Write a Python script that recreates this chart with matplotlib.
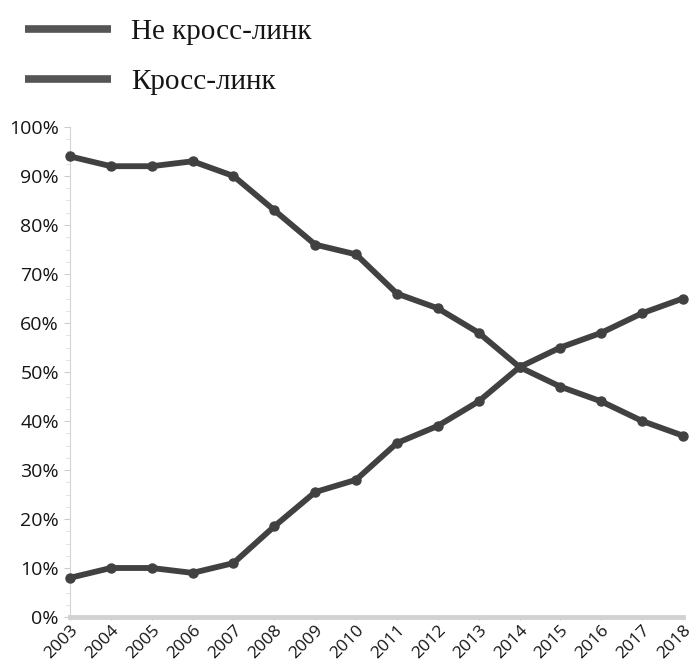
import matplotlib
matplotlib.use("Agg")
import matplotlib.pyplot as plt
from matplotlib.lines import Line2D
from matplotlib.ticker import MultipleLocator, FuncFormatter

years = list(range(2003, 2019))
non_crosslink = [94, 92, 92, 93, 90, 83, 76, 74, 66, 63, 58, 51, 47, 44, 40, 37]
crosslink = [8, 10, 10, 9, 11, 18.5, 25.5, 28, 35.5, 39, 44, 51, 55, 58, 62, 65]
series_labels = ["Не кросс-линк", "Кросс-линк"]

line_color = "#414141"
text_color = "#151515"

fig = plt.figure(figsize=(6.93, 6.68), dpi=100)
ax = fig.add_axes([70 / 693, 51 / 668, 613 / 693, 490 / 668])

for values in (non_crosslink, crosslink):
    ax.plot(years, values, color=line_color, lw=4.2, marker="o", ms=6.5,
            solid_joinstyle="round", solid_capstyle="round", clip_on=False, zorder=3)

ax.set_xlim(2003, 2018)
ax.set_ylim(0, 100)

ax.yaxis.set_major_locator(MultipleLocator(10))
ax.yaxis.set_minor_locator(MultipleLocator(2.5))
ax.yaxis.set_major_formatter(FuncFormatter(lambda v, _: f"{v:.0f}%"))
ax.set_xticks(years)
ax.set_xticklabels([str(y) for y in years], rotation=45, ha="right",
                   rotation_mode="anchor")

for lab in ax.get_yticklabels():
    lab.set_fontfamily("Open Sans")
    lab.set_fontsize(14)
    lab.set_color(text_color)
for lab in ax.get_xticklabels():
    lab.set_fontfamily("Open Sans")
    lab.set_fontsize(12.5)
    lab.set_color(text_color)

for side in ("top", "right"):
    ax.spines[side].set_visible(False)
ax.spines["left"].set_color("#d4d4d4")
ax.spines["left"].set_linewidth(0.8)
ax.spines["bottom"].set_color("#d2d2d2")
ax.spines["bottom"].set_linewidth(3.5)

ax.tick_params(axis="y", which="major", length=4, width=0.8, color="#cccccc", pad=4)
ax.tick_params(axis="y", which="minor", length=3, width=0.6, color="#dddddd")
ax.tick_params(axis="x", which="major", length=2, width=0.8, color="#cccccc", pad=1.5)

handles = [Line2D([], [], color="#555555", lw=5.5, solid_capstyle="butt")
           for _ in series_labels]
fig.legend(handles, series_labels, loc="upper left",
           bbox_to_anchor=(25 / 693, 1 - 19 / 668), frameon=False,
           prop={"family": "Liberation Serif", "size": 21},
           handlelength=2.95, handletextpad=0.68, labelspacing=0.8,
           labelcolor=text_color, borderpad=0, borderaxespad=0)

fig.savefig("out.png", dpi=100)
